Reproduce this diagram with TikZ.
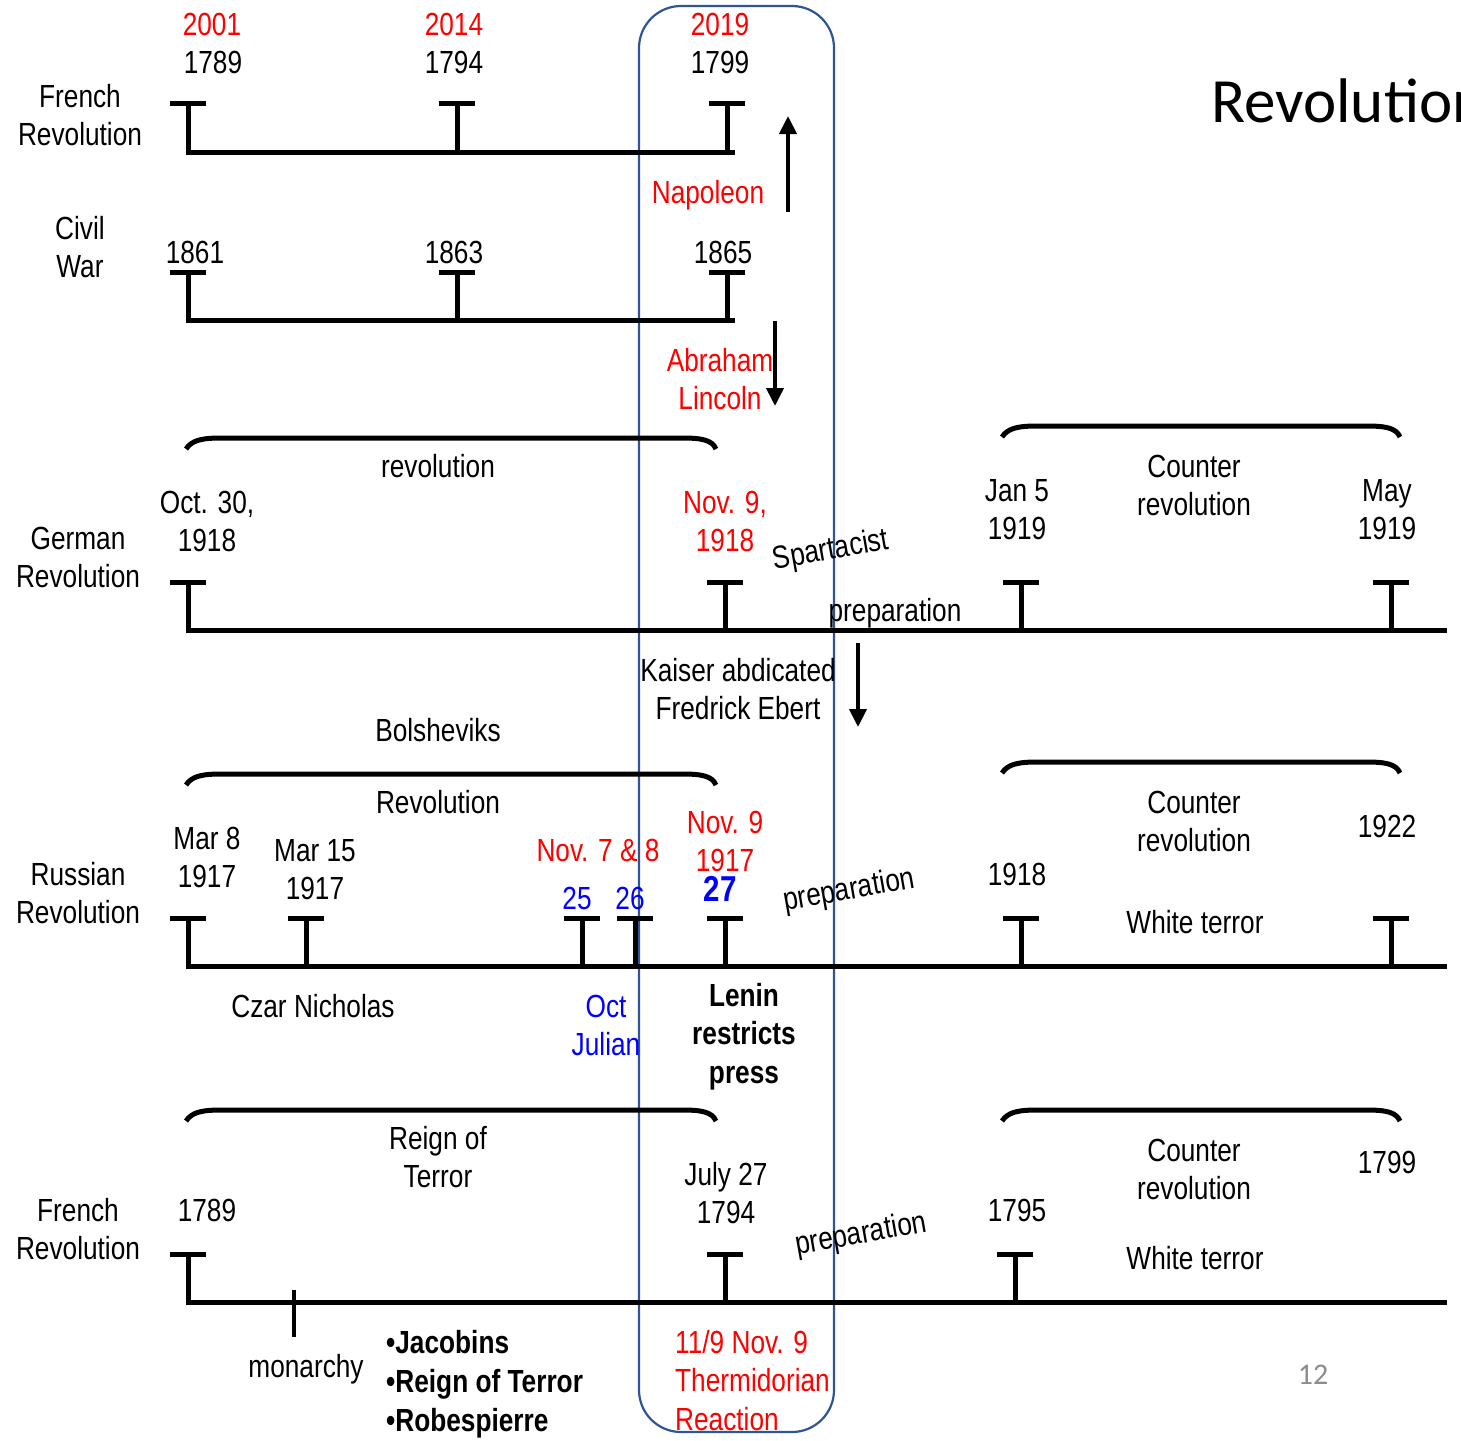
\documentclass[tikz,border=0pt]{standalone}
\usepackage{fontspec}
\setmainfont[FakeStretch=0.82]{Liberation Sans}
\newfontfamily\calfont{Carlito}
\usetikzlibrary{arrows.meta}
\definecolor{boxblue}{RGB}{47,85,151}
\definecolor{pgrey}{RGB}{140,140,140}
\definecolor{tred}{RGB}{255,0,0}
\definecolor{tblue}{RGB}{0,0,255}
\newcommand{\mlc}[1]{\begin{tabular}[t]{@{}c@{}}#1\end{tabular}}
\newcommand{\mll}[1]{\begin{tabular}[t]{@{}l@{}}#1\end{tabular}}
\begin{document}
\begin{tikzpicture}[x=1pt,y=-1pt,
  lbl/.style={anchor=base,inner sep=0pt,font=\fontsize{32}{38}\selectfont},
  lblL/.style={anchor=base west,inner sep=0pt,font=\fontsize{32}{38}\selectfont},
  redt/.style={text=tred},
  bluet/.style={text=tblue},
  tl/.style={line width=5pt,black},
  brace/.style={line width=5pt,black},
  arr/.style={line width=4pt,-{Triangle[width=17pt,length=18pt]}},
  bluebox/.style={draw=boxblue,line width=2.2pt,rounded corners=42pt}]
\useasboundingbox (0,0) rectangle (1461,1440);
\clip (0,0) rectangle (1461,1440);

% ---------- highlight box
\draw[bluebox] (639,6) rectangle (834,1432);

% ---------- title and page number
\node[anchor=base west,inner sep=0pt,font=\calfont\fontsize{63}{75}\selectfont] (title) at (1211,122) {Revolution};
\node[anchor=base,inner sep=0pt,text=pgrey,font=\calfont\fontsize{30}{36}\selectfont] (pnum) at (1313,1384) {12};

% ---------- row 1: French Revolution (top)
\draw[tl] (186,152) -- (735,152);
\foreach \x in {188,457,727}{\draw[tl] (\x-18,103) -- (\x+18,103); \draw[tl] (\x,103) -- (\x,152);}
\node[lbl] (fr1) at (80,107) {\mlc{French\\Revolution}};
\node[lbl,redt] (y2001) at (212,35) {2001};
\node[lbl] (y1789a) at (213,73) {1789};
\node[lbl,redt] (y2014) at (454,35) {2014};
\node[lbl] (y1794a) at (454,73) {1794};
\node[lbl,redt] (y2019) at (720,35) {2019};
\node[lbl] (y1799a) at (720,73) {1799};

% ---------- row 2: Civil War
\draw[tl] (186,320) -- (735,320);
\foreach \x in {188,457,727}{\draw[tl] (\x-18,272) -- (\x+18,272); \draw[tl] (\x,272) -- (\x,320);}
\node[lbl] (cw) at (80,239) {\mlc{Civil\\War}};
\node[lbl] (y1861) at (195,263) {1861};
\node[lbl] (y1863) at (454,263) {1863};
\node[lbl] (y1865) at (723,263) {1865};
\node[lbl,redt] (napo) at (708,203) {Napoleon};
\node[lbl,redt] (abe) at (720,371) {\mlc{Abraham\\Lincoln}};
\coordinate (a1s) at (788,212);
\coordinate (a1e) at (788,116);
\draw[arr] (a1s) -- (a1e);
\coordinate (a2s) at (775,321);
\coordinate (a2e) at (775,406);
\draw[arr] (a2s) -- (a2e);

% ---------- row 3: German Revolution
\draw[brace] (186,449) .. controls (192,440) and (202,438) .. (222,438) -- (682,438) .. controls (702,438) and (712,440) .. (716,449);
\draw[brace] (1002,437) .. controls (1008,428) and (1018,426) .. (1038,426) -- (1366,426) .. controls (1386,426) and (1396,428) .. (1400,437);
\draw[tl] (186,630) -- (1447,630);
\foreach \x in {188,725,1021,1391}{\draw[tl] (\x-18,582) -- (\x+18,582); \draw[tl] (\x,582) -- (\x,630);}
\node[lbl] (gr) at (78,549) {\mlc{German\\Revolution}};
\node[lbl] (grev) at (438,477) {revolution};
\node[lbl] (oct30) at (207,513) {\mlc{Oct. 30,\\1918}};
\node[lbl,redt] (nov9a) at (725,513) {\mlc{Nov. 9,\\1918}};
\node[anchor=center,inner sep=0pt,font=\fontsize{32}{38}\selectfont,rotate=10] (spart) at (831,551) {Spartacist};
\node[lbl] (prepa) at (895,621) {preparation};
\node[lbl] (jan5) at (1017,501) {\mlc{Jan 5\\1919}};
\node[lbl] (cr1) at (1194,477) {\mlc{Counter\\revolution}};
\node[lbl] (may) at (1387,501) {\mlc{May\\1919}};
\node[lbl] (kaiser) at (738,681) {\mlc{Kaiser abdicated\\Fredrick Ebert}};
\coordinate (a3s) at (858,643);
\coordinate (a3e) at (858,727);
\draw[arr] (a3s) -- (a3e);
\node[lbl] (bolsh) at (438,741) {Bolsheviks};

% ---------- row 4: Russian Revolution
\draw[brace] (186,785) .. controls (192,776) and (202,774) .. (222,774) -- (682,774) .. controls (702,774) and (712,776) .. (716,785);
\draw[brace] (1002,773) .. controls (1008,764) and (1018,762) .. (1038,762) -- (1366,762) .. controls (1386,762) and (1396,764) .. (1400,773);
\draw[tl] (186,966) -- (1447,966);
\foreach \x in {188,306,582,635,725,1021,1391}{\draw[tl] (\x-18,918) -- (\x+18,918); \draw[tl] (\x,918) -- (\x,966);}
\node[lbl] (rr) at (78,885) {\mlc{Russian\\Revolution}};
\node[lbl] (rrev) at (438,813) {Revolution};
\node[lbl] (mar8) at (207,849) {\mlc{Mar 8\\1917}};
\node[lbl] (mar15) at (315,861) {\mlc{Mar 15\\1917}};
\node[lbl,redt] (nov78) at (598,861) {Nov. 7 \& 8};
\node[lbl,redt] (nov9b) at (725,833) {\mlc{Nov. 9\\1917}};
\node[lbl,bluet] (d25) at (577,909) {25};
\node[lbl,bluet] (d26) at (630,909) {26};
\node[anchor=base,inner sep=0pt,text=tblue,font=\fontsize{36}{40}\selectfont\bfseries] (d27) at (720,901) {27};
\node[anchor=center,inner sep=0pt,font=\fontsize{32}{38}\selectfont,rotate=10] (prepb) at (849,891) {preparation};
\node[lbl] (y1918) at (1017,885) {1918};
\node[lbl] (cr2) at (1194,813) {\mlc{Counter\\revolution}};
\node[lbl] (y1922) at (1387,837) {1922};
\node[lbl] (wt1) at (1195,933) {White terror};
\node[lbl] (czar) at (313,1017) {Czar Nicholas};
\node[lbl,bluet] (octj) at (606,1017) {\mlc{Oct\\Julian}};
\node[lbl,font=\fontsize{32}{38.5}\selectfont\bfseries] (lenin) at (744,1006) {\mlc{Lenin\\restricts\\press}};

% ---------- row 5: French Revolution (bottom)
\draw[brace] (186,1121) .. controls (192,1112) and (202,1110) .. (222,1110) -- (682,1110) .. controls (702,1110) and (712,1112) .. (716,1121);
\draw[brace] (1002,1121) .. controls (1008,1112) and (1018,1110) .. (1038,1110) -- (1366,1110) .. controls (1386,1110) and (1396,1112) .. (1400,1121);
\draw[tl] (186,1302) -- (1447,1302);
\foreach \x in {188,725,1015}{\draw[tl] (\x-18,1254) -- (\x+18,1254); \draw[tl] (\x,1254) -- (\x,1302);}
\draw[line width=4pt] (294,1290) -- (294,1337);
\node[lbl] (fr2) at (78,1221) {\mlc{French\\Revolution}};
\node[lbl] (reign) at (438,1149) {\mlc{Reign of\\Terror}};
\node[lbl] (y1789b) at (207,1221) {1789};
\node[lbl] (july) at (726,1185) {\mlc{July 27\\1794}};
\node[anchor=center,inner sep=0pt,font=\fontsize{32}{38}\selectfont,rotate=10] (prepc) at (861,1235) {preparation};
\node[lbl] (y1795) at (1017,1221) {1795};
\node[lbl] (cr3) at (1194,1161) {\mlc{Counter\\revolution}};
\node[lbl] (y1799b) at (1387,1173) {1799};
\node[lbl] (wt2) at (1195,1269) {White terror};
\node[lbl] (mon) at (306,1377) {monarchy};
\node[lblL,font=\fontsize{32}{39}\selectfont\bfseries] (bul) at (386,1353) {\mll{\textbullet Jacobins\\\textbullet Reign of Terror\\\textbullet Robespierre}};
\node[lblL,redt,font=\fontsize{32}{38.5}\selectfont] (thermi) at (675,1353) {\mll{11/9 Nov. 9\\Thermidorian\\Reaction}};
\end{tikzpicture}
\end{document}
